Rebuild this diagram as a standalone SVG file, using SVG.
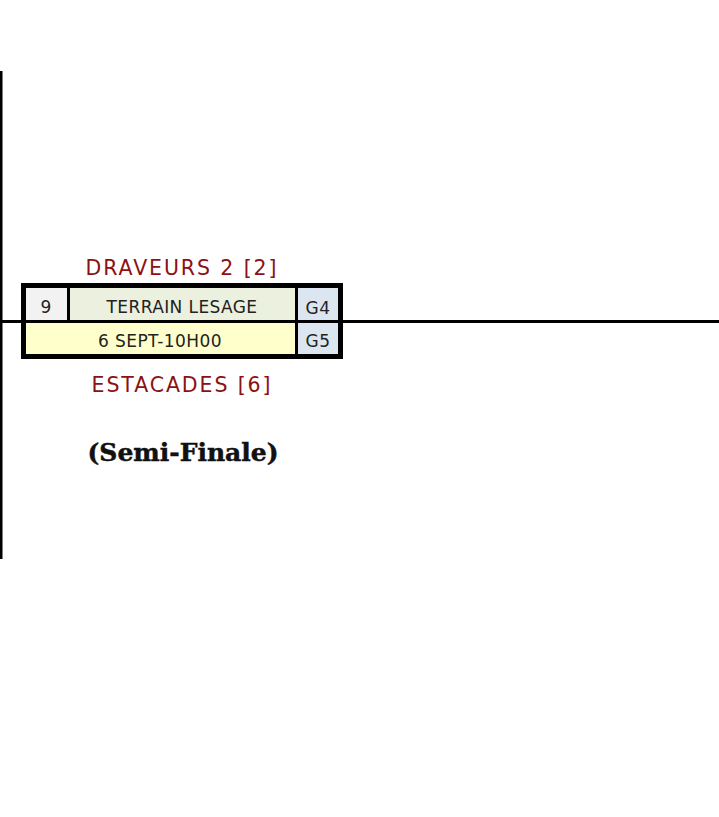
<svg xmlns="http://www.w3.org/2000/svg" width="719" height="817" viewBox="0 0 719 817">
<style>
.team{font-family:"DejaVu Sans",Verdana,sans-serif;font-size:20.5px;letter-spacing:1.9px;fill:#8b1212;text-anchor:middle}
.cell{font-family:"DejaVu Sans",Verdana,sans-serif;font-size:17px;letter-spacing:0.4px;fill:#222;text-anchor:middle}
.title{font-family:"DejaVu Serif","Liberation Serif",serif;font-size:25px;font-weight:bold;fill:#111;stroke:#111;stroke-width:0.5;text-anchor:middle}
.ln{stroke:#000;stroke-width:3;fill:none}
</style>
<rect width="719" height="817" fill="#fff"/>
<g id="connectors">
<line class="ln" x1="1" y1="71" x2="1" y2="559"/>
<line class="ln" x1="0" y1="321.5" x2="719" y2="321.5"/>
</g>
<g id="match9">
<rect x="23.5" y="285.5" width="317" height="71" fill="#fff" stroke="#000" stroke-width="5"/>
<rect x="26" y="288" width="41" height="32" fill="#f2f2f2"/>
<rect x="70" y="288" width="225" height="32" fill="#ebf1de"/>
<rect x="298" y="288" width="40" height="32" fill="#dce6f1"/>
<rect x="26" y="323" width="269" height="31" fill="#ffffcc"/>
<rect x="298" y="323" width="40" height="31" fill="#dce6f1"/>
<line x1="68.5" y1="286" x2="68.5" y2="321" stroke="#000" stroke-width="3"/>
<line x1="296.5" y1="286" x2="296.5" y2="356" stroke="#000" stroke-width="3"/>
<line class="ln" x1="22" y1="321.5" x2="343" y2="321.5"/>
<text class="cell" x="46" y="313">9</text>
<text class="cell" x="182" y="313">TERRAIN LESAGE</text>
<text class="cell" x="318" y="314">G4</text>
<text class="cell" x="160" y="347">6 SEPT-10H00</text>
<text class="cell" x="318" y="347">G5</text>
</g>
<g id="labels">
<text class="team" x="182" y="275">DRAVEURS 2 [2]</text>
<text class="team" x="182" y="392">ESTACADES [6]</text>
<text class="title" x="183" y="461">(Semi-Finale)</text>
</g>
</svg>
